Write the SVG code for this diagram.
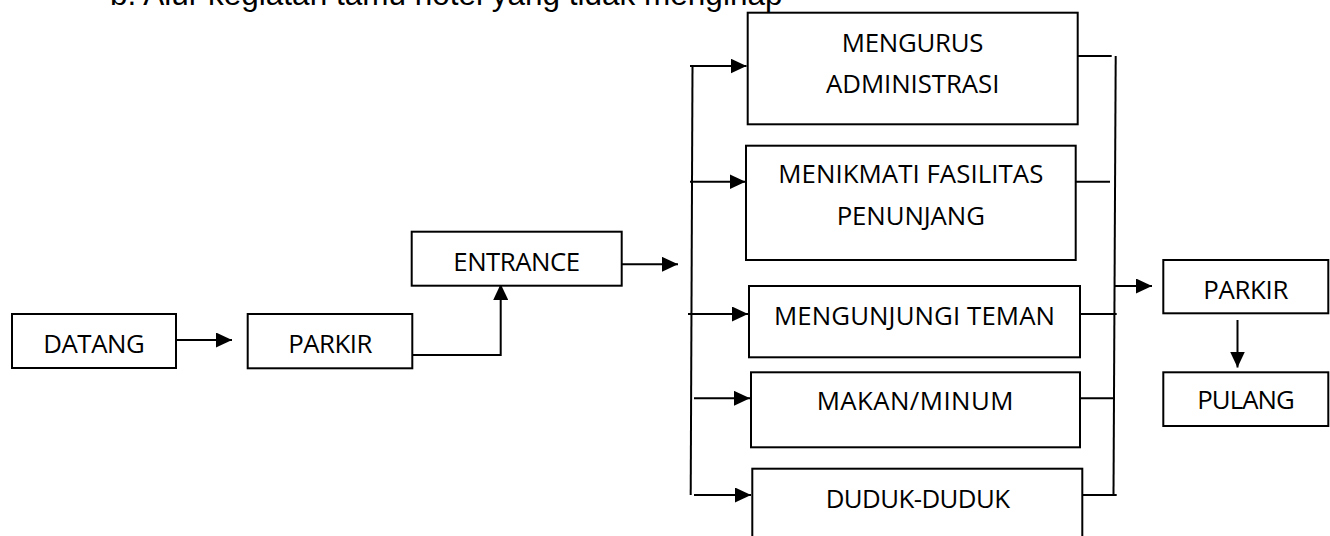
<svg xmlns="http://www.w3.org/2000/svg" width="1330" height="536" viewBox="0 0 1330 536">
<style>
.box{fill:#fff;stroke:#000;stroke-width:2}
.lbl{font-family:"Open Sans","Noto Sans",sans-serif;font-size:25.8px;fill:#000;text-anchor:middle}
.title{font-family:"Liberation Sans",Arial,sans-serif;font-size:31.5px;fill:#000}
.ln{fill:none;stroke:#000;stroke-width:2}
.ar{fill:none;stroke:#000;stroke-width:2;marker-end:url(#ah)}
</style>
<defs>
<marker id="ah" markerUnits="userSpaceOnUse" markerWidth="16" markerHeight="15" refX="16" refY="7.5" orient="auto" viewBox="0 0 16 15">
<path d="M0,0 L16,7.5 L0,15 z" fill="#000"/>
</marker>
</defs>
<rect width="1330" height="536" fill="#fff"/>
<text class="title" x="110" y="5">b. Alur kegiatan tamu hotel yang tidak menginap</text>

<g id="connectors">
<line class="ar" x1="176" y1="340" x2="232" y2="340"/>
<polyline class="ar" points="412.3,355 500.7,355 500.7,284"/>
<line class="ar" x1="621.7" y1="264.3" x2="678" y2="264.3"/>
<line class="ln" x1="692.5" y1="66" x2="690.7" y2="495"/>
<line class="ar" x1="690" y1="66" x2="746.5" y2="66"/>
<line class="ar" x1="690" y1="181.7" x2="745.5" y2="181.7"/>
<line class="ar" x1="688" y1="314" x2="748" y2="314"/>
<line class="ar" x1="694" y1="398.3" x2="750" y2="398.3"/>
<line class="ar" x1="694" y1="495" x2="751" y2="495"/>
<line class="ln" x1="1077.7" y1="56" x2="1111.7" y2="56"/>
<line class="ln" x1="1075.7" y1="181.7" x2="1110" y2="181.7"/>
<line class="ln" x1="1080" y1="314" x2="1116.7" y2="314"/>
<line class="ln" x1="1080" y1="398.3" x2="1114" y2="398.3"/>
<line class="ln" x1="1082.3" y1="495" x2="1116.7" y2="495"/>
<line class="ln" x1="1115.7" y1="56" x2="1113.5" y2="495"/>
<line class="ar" x1="1114.5" y1="286" x2="1152" y2="286"/>
<line class="ar" x1="1237.5" y1="320" x2="1237.5" y2="367.5"/>
</g>

<g id="n-datang"><rect class="box" x="12" y="314" width="164" height="54"/><text class="lbl" x="94" y="353.3" textLength="101.7">DATANG</text></g>
<g id="n-parkir1"><rect class="box" x="247.7" y="314" width="164.6" height="54.3"/><text class="lbl" x="330.3" y="353.3" textLength="84">PARKIR</text></g>
<g id="n-entrance"><rect class="box" x="411.7" y="231.7" width="210" height="54"/><text class="lbl" x="516.7" y="271" textLength="126.7">ENTRANCE</text></g>
<g id="n-mengurus"><rect class="box" x="747.7" y="12.7" width="330" height="111.6"/><text class="lbl" x="912.6" y="52.3" textLength="141.7">MENGURUS</text><text class="lbl" x="912.7" y="92.7" textLength="173.3">ADMINISTRASI</text></g>
<g id="n-menikmati"><rect class="box" x="746" y="145.7" width="329.7" height="114.3"/><text class="lbl" x="910.8" y="183.3" textLength="265">MENIKMATI FASILITAS</text><text class="lbl" x="910.8" y="225" textLength="148.3">PENUNJANG</text></g>
<g id="n-mengunjungi"><rect class="box" x="749" y="286" width="331" height="71.3"/><text class="lbl" x="914.5" y="325" textLength="281">MENGUNJUNGI TEMAN</text></g>
<g id="n-makan"><rect class="box" x="751" y="372.3" width="329" height="75"/><text class="lbl" x="915" y="410" textLength="196.7">MAKAN/MINUM</text></g>
<g id="n-duduk"><rect class="box" x="752.3" y="468.7" width="330" height="75"/><text class="lbl" x="917.8" y="508.3" textLength="184.3">DUDUK-DUDUK</text></g>
<g id="n-parkir2"><rect class="box" x="1163.3" y="260" width="165" height="53.3"/><text class="lbl" x="1245.8" y="299" textLength="85">PARKIR</text></g>
<g id="n-pulang"><rect class="box" x="1163.3" y="372.3" width="165" height="53.7"/><text class="lbl" x="1246" y="409.3" textLength="97.7">PULANG</text></g>
</svg>
